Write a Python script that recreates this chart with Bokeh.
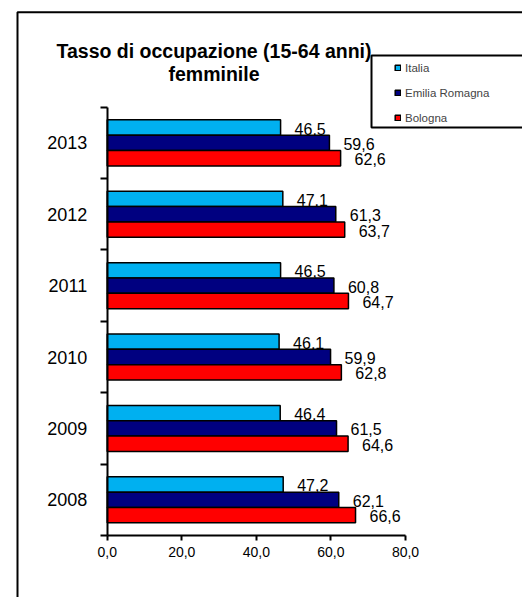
from bokeh.plotting import figure
from bokeh.models import (ColumnDataSource, Range1d, FixedTicker, Legend, LegendItem,
                          Label, BoxAnnotation)
from bokeh.core.properties import value
from bokeh.transform import dodge
from bokeh.embed import file_html
from bokeh.resources import INLINE

# ---- data ----
years = ["2008", "2009", "2010", "2011", "2012", "2013"]
italia = [47.2, 46.4, 46.1, 46.5, 47.1, 46.5]
emilia = [62.1, 61.5, 59.9, 60.8, 61.3, 59.6]
bologna = [66.6, 64.6, 62.8, 64.7, 63.7, 62.6]
series_names = ["Italia", "Emilia Romagna", "Bologna"]
x_ticks = [0, 20, 40, 60, 80]

colors = ["#00B0F0", "#000080", "#FF0000"]
FONT = "Liberation Sans"

def fmt(v):
    return f"{v:.1f}".replace(".", ",")

W, H = 522, 597
# plot-area placement on the canvas (pixels)
AX_LEFT, AX_RIGHT, AX_TOP, AX_BOTTOM = 106.7, 405, 106.7, 535
XMAX = x_ticks[-1]
NCAT = len(years)
pxx = (AX_RIGHT - AX_LEFT) / XMAX
pxy = (AX_BOTTOM - AX_TOP) / NCAT

ypos = [i + 0.5 for i in range(NCAT)]
src = ColumnDataSource(dict(
    y=ypos,
    italia=italia, emilia=emilia, bologna=bologna,
    italia_lbl=[fmt(v) for v in italia],
    emilia_lbl=[fmt(v) for v in emilia],
    bologna_lbl=[fmt(v) for v in bologna],
))

p = figure(width=W, height=H, output_backend="svg", toolbar_location=None,
           x_range=Range1d(-AX_LEFT / pxx, (W - AX_LEFT) / pxx),
           y_range=Range1d(-(H - AX_BOTTOM) / pxy, NCAT + AX_TOP / pxy),
           min_border=0)
p.title = None
p.grid.visible = False
p.outline_line_color = None
p.background_fill_color = "white"
p.border_fill_color = "white"

bh = 0.215
offsets = [bh, 0.0, -bh]
fields = ["italia", "emilia", "bologna"]
renderers = []
for f, c, off in zip(fields, colors, offsets):
    r = p.hbar(y=dodge("y", off, range=p.y_range), right=f, left=0, height=bh,
               source=src, fill_color=c, line_color="black", line_width=1.5)
    renderers.append(r)
    p.text(x=f, y=dodge("y", off, range=p.y_range), text=f + "_lbl", source=src,
           x_offset=14, y_offset=1, text_baseline="middle", text_align="left",
           text_font_size="16px", text_color="black", text_font=value(FONT))

# x axis
xa = p.xaxis[0]
xa.fixed_location = 0
xa.bounds = (0, XMAX)
xa.ticker = FixedTicker(ticks=x_ticks, minor_ticks=[])
xa.major_label_overrides = {t: fmt(float(t)) for t in x_ticks}
xa.axis_line_width = 2
xa.axis_line_color = "black"
xa.major_tick_line_width = 2
xa.major_tick_out = 5
xa.major_tick_in = 0
xa.minor_tick_line_color = None
xa.major_label_text_font = FONT
xa.major_label_text_font_size = "14px"
xa.major_label_text_color = "black"
xa.major_label_standoff = 6

# y axis
ya = p.yaxis[0]
ya.fixed_location = 0
ya.bounds = (0, NCAT)
ya.ticker = FixedTicker(ticks=ypos, minor_ticks=list(range(NCAT + 1)))
ya.major_label_overrides = {y: lab for y, lab in zip(ypos, years)}
ya.axis_line_width = 2
ya.axis_line_color = "black"
ya.major_tick_line_color = None
ya.major_tick_out = 0
ya.major_tick_in = 0
ya.minor_tick_line_width = 2
ya.minor_tick_line_color = "black"
ya.minor_tick_out = 7
ya.minor_tick_in = 0
ya.major_label_text_font = FONT
ya.major_label_text_font_size = "18px"
ya.major_label_text_color = "black"
ya.major_label_standoff = 13

# outer chart border and legend border
p.add_layout(BoxAnnotation(left=17, right=W + 1, top=11.7, bottom=H + 1,
                           left_units="canvas", right_units="canvas",
                           top_units="canvas", bottom_units="canvas",
                           fill_alpha=0, line_color="black", line_alpha=1,
                           line_width=2))
p.add_layout(BoxAnnotation(left=371, right=W + 1, top=55, bottom=127,
                           left_units="canvas", right_units="canvas",
                           top_units="canvas", bottom_units="canvas",
                           fill_color="white", fill_alpha=1,
                           line_color="black", line_alpha=1, line_width=2))

legend = Legend(items=[LegendItem(label=n, renderers=[r]) for n, r in zip(series_names, renderers)],
                location=(394, H - 125), orientation="vertical",
                padding=0, margin=0, spacing=10, label_height=15,
                glyph_height=7, glyph_width=7, label_standoff=4,
                label_text_font=FONT, label_text_font_size="11.5px",
                border_line_alpha=0, background_fill_alpha=0)
p.add_layout(legend)

# title
TX = 213.5
p.add_layout(Label(x=TX, y=H - 50, x_units="screen", y_units="screen",
                   text="Tasso di occupazione (15-64 anni)", text_align="center",
                   text_baseline="alphabetic", text_font=FONT, text_font_size="19.5px",
                   text_font_style="bold", text_color="black"))
p.add_layout(Label(x=TX, y=H - 73, x_units="screen", y_units="screen",
                   text="femminile", text_align="center",
                   text_baseline="alphabetic", text_font=FONT, text_font_size="19.5px",
                   text_font_style="bold", text_color="black"))

open("out.html", "w").write(file_html(p, INLINE))
